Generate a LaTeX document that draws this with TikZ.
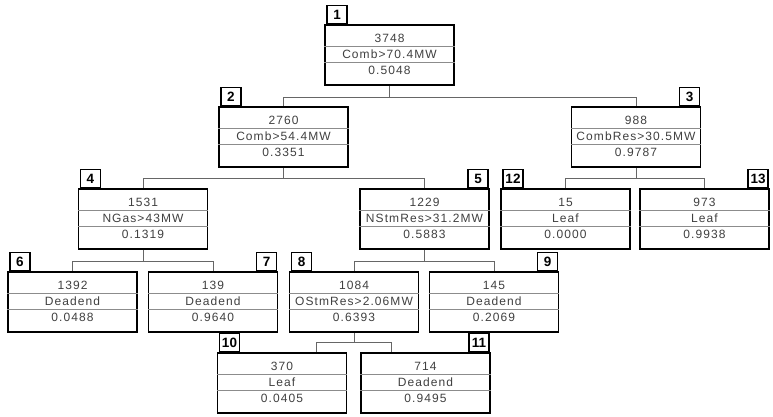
\documentclass[tikz,border=0pt]{standalone}
\usepackage{fontspec}
\setmainfont{Liberation Sans}
\newfontfamily\boxfont[LetterSpace=9]{Liberation Sans}
\tikzset{
  box/.style={draw=black, line width=1.5pt, rectangle, minimum width=129pt, minimum height=60pt, inner sep=0pt, fill=white},
  sepline/.style={draw=black!45, line width=0.8pt},
  txt/.style={inner sep=0pt, text=black!75, font=\boxfont\fontsize{12}{12}\selectfont},
  lab/.style={draw=black, line width=1.5pt, rectangle, minimum width=20pt, minimum height=18pt, inner sep=0pt, fill=white, font=\bfseries\fontsize{13.5}{13.5}\selectfont},
  conn/.style={draw=black!60, line width=0.9pt},
}
% #1 name, #2 x centre, #3 top y, #4 label, #5 label side (l/r), #6-#8 texts
\newcommand\treebox[8]{%
  \node[box] (#1) at (#2, #3+30) {};
  \draw[sepline] ([yshift=-22pt]#1.north west) -- ([yshift=-22pt]#1.north east);
  \draw[sepline] ([yshift=-38pt]#1.north west) -- ([yshift=-38pt]#1.north east);
  \node[txt] (#1a) at ([yshift=-14pt]#1.north) {#6};
  \node[txt] (#1b) at ([yshift=-30pt]#1.north) {#7};
  \node[txt] (#1c) at ([yshift=-46pt]#1.north) {#8};
  \if#5l
    \node[lab, anchor=south west] (#1l) at ([xshift=2pt]#1.north west) {#4};
  \else
    \node[lab, anchor=south east] (#1l) at ([xshift=-1pt]#1.north east) {#4};
  \fi
}
\begin{document}
\begin{tikzpicture}[x=1pt, y=-1pt]
\useasboundingbox (0,0) rectangle (773,416);
% junction points
\coordinate (j1) at (389.5,97);
\coordinate (j2) at (283.5,178);
\coordinate (j3) at (636,178);
\coordinate (j4) at (143,261);
\coordinate (j5) at (424.5,261);
\coordinate (j8) at (354,342);

\treebox{n1}{389.5}{25}{1}{l}{3748}{Comb>70.4MW}{0.5048}
\treebox{n2}{283.5}{107}{2}{l}{2760}{Comb>54.4MW}{0.3351}
\treebox{n3}{636}{107}{3}{r}{988}{CombRes>30.5MW}{0.9787}
\treebox{n4}{143}{189}{4}{l}{1531}{NGas>43MW}{0.1319}
\treebox{n5}{424.5}{189}{5}{r}{1229}{NStmRes>31.2MW}{0.5883}
\treebox{n12}{565.5}{189}{12}{l}{15}{Leaf}{0.0000}
\treebox{n13}{704.5}{189}{13}{r}{973}{Leaf}{0.9938}
\treebox{n6}{72.5}{272}{6}{l}{1392}{Deadend}{0.0488}
\treebox{n7}{213}{272}{7}{r}{139}{Deadend}{0.9640}
\treebox{n8}{354}{272}{8}{l}{1084}{OStmRes>2.06MW}{0.6393}
\treebox{n9}{494}{272}{9}{r}{145}{Deadend}{0.2069}
\treebox{n10}{282}{353}{10}{l}{370}{Leaf}{0.0405}
\treebox{n11}{425.5}{353}{11}{r}{714}{Deadend}{0.9495}

\draw[conn] (n1.south) -- (j1);
\draw[conn] (j1) -| (n2.north);
\draw[conn] (j1) -| (n3.north);
\draw[conn] (n2.south) -- (j2);
\draw[conn] (j2) -| (n4.north);
\draw[conn] (j2) -| (n5.north);
\draw[conn] (n3.south) -- (j3);
\draw[conn] (j3) -| (n12.north);
\draw[conn] (j3) -| (n13.north);
\draw[conn] (n4.south) -- (j4);
\draw[conn] (j4) -| (n6.north);
\draw[conn] (j4) -| (n7.north);
\draw[conn] (n5.south) -- (j5);
\draw[conn] (j5) -| (n8.north);
\draw[conn] (j5) -| (n9.north);
\draw[conn] (n8.south) -- (j8);
\draw[conn] (j8) -| ([xshift=-31pt]n10.north east);
\draw[conn] (j8) -| ([xshift=31pt]n11.north west);
\end{tikzpicture}
\end{document}
